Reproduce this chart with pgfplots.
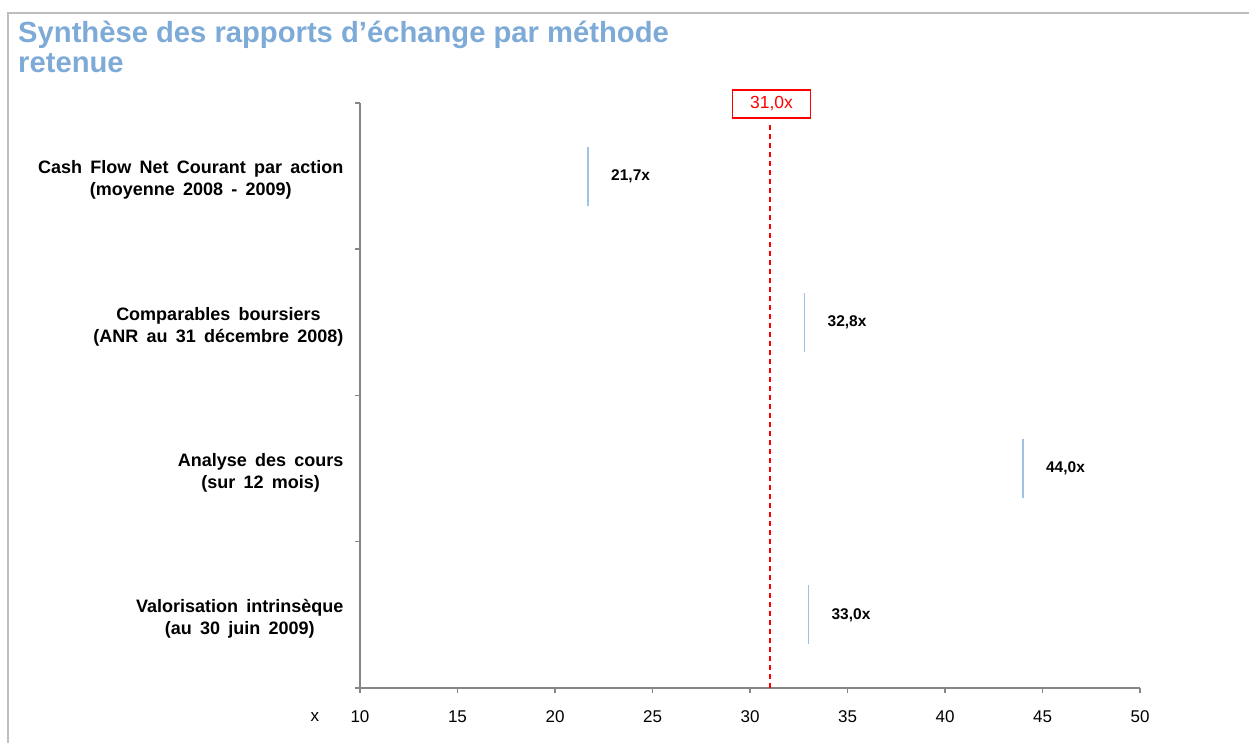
\documentclass[border=0pt]{standalone}
\usepackage{fontspec}
\setmainfont{Liberation Sans}
\newfontfamily\labfont[WordSpace=1.65]{Liberation Sans}
\usepackage{pgfplots}
\pgfplotsset{compat=1.18}
\definecolor{titleblue}{RGB}{125,170,214}
\definecolor{barblue}{RGB}{157,195,230}
\definecolor{axisgray}{RGB}{134,134,134}
\definecolor{framegray}{RGB}{190,190,190}
\definecolor{mred}{RGB}{255,0,0}
\begin{document}
\begin{tikzpicture}
\useasboundingbox (0,0) rectangle (1249pt,743pt);
\draw[framegray, line width=2pt] (8pt,0) -- (8pt,730pt) -- (1249pt,730pt);
\node[anchor=north west, align=left, inner sep=0pt, text=titleblue,
      font=\fontsize{29.2}{30}\bfseries\selectfont] at (18pt,722pt)
  {Synthèse des rapports d’échange par méthode\\retenue};
\begin{axis}[
  at={(360pt,55pt)}, anchor=south west,
  scale only axis, width=780pt, height=585pt,
  xmin=10, xmax=50, ymin=-0.5, ymax=3.5,
  clip=false,
  axis x line*=bottom, axis y line*=left,
  axis line style={axisgray, line width=2pt, -},
  tick style={axisgray, line width=1.5pt},
  tick align=outside, major tick length=5pt,
  xtick={10,15,...,50},
  /pgf/number format/assume math mode=true,
  xticklabel style={font=\fontsize{17}{20}\selectfont, yshift=-14pt},
  ytick={-0.5,0.5,1.5,2.5,3.5},
  yticklabels={,,,,},
  extra y ticks={0,1,2,3},
  extra y tick labels={
    {Valorisation intrinsèque\\(au 30 juin 2009)},
    {Analyse des cours\\(sur 12 mois)},
    {Comparables boursiers\\(ANR au 31 décembre 2008)},
    {Cash Flow Net Courant par action\\(moyenne 2008 - 2009)}},
  extra y tick style={major tick length=0pt,
    yticklabel style={align=center, anchor=east, xshift=-13pt, yshift=-4pt,
      font=\labfont\fontsize{18}{22}\bfseries\selectfont}},
]
\addplot[only marks, mark=|, mark size=29.5pt,
  mark options={line width=1.5pt, color=barblue},
  point meta=explicit symbolic,
  nodes near coords,
  nodes near coords style={anchor=west, xshift=19pt, text=black,
    font=\fontsize{15.5}{18}\bfseries\selectfont}]
  table[meta=label] {
x y label
21.7 3 21,7x
32.8 2 32,8x
44.0 1 44,0x
33.0 0 33,0x
};
\addplot[draw=mred, mark=none, line width=2pt, dash pattern=on 5pt off 4pt]
  table {
x y
31 -0.5
31 3.35
};
\node[draw=mred, line width=1.5pt, fill=white, text=mred,
  minimum width=78pt, minimum height=28pt, inner sep=0pt,
  font=\fontsize{17.5}{20}\selectfont, xshift=2pt, yshift=-1pt]
  at (axis cs:31,3.5) {31,0x};
\node[font=\fontsize{17}{20}\selectfont, anchor=base]
  at ([xshift=-45pt, yshift=-34pt]axis cs:10,-0.5) {x};
\end{axis}
\end{tikzpicture}
\end{document}
